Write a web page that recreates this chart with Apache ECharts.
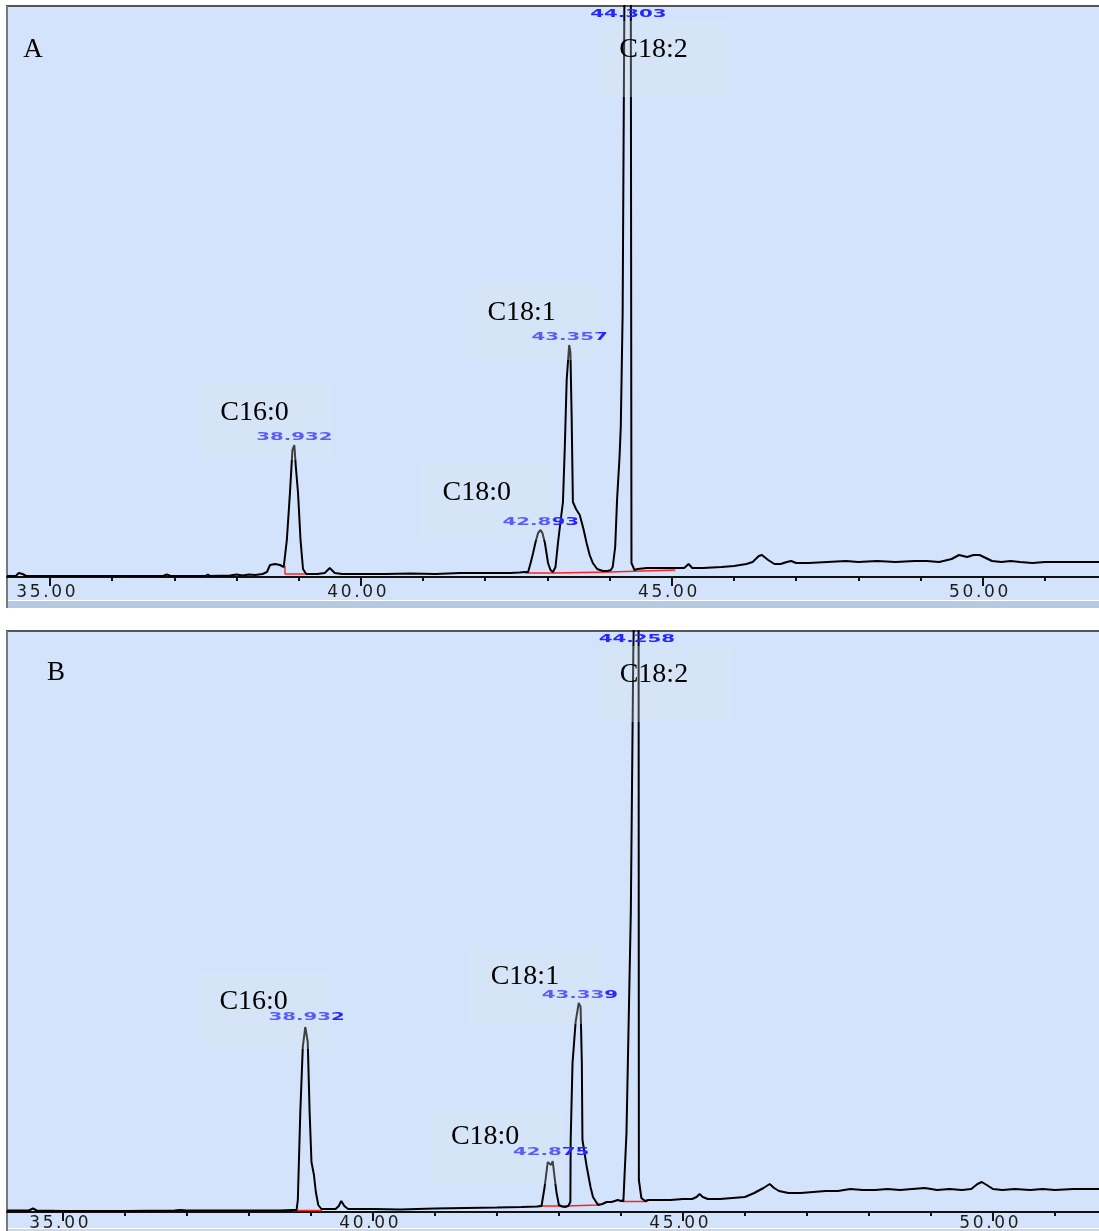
<!DOCTYPE html>
<html>
<head>
<meta charset="utf-8">
<script src="https://cdn.jsdelivr.net/npm/echarts@6/dist/echarts.min.js"></script>
<style>
  html, body { margin: 0; padding: 0; background: #fff; }
  #chart { width: 1099px; height: 1231px; }
</style>
</head>
<body>
<div id="chart"></div>
<script>
// retention time (min) / detector signal
const timeA = [
  34.31, 34.45, 34.50, 34.56, 34.62, 35.5, 36.3, 36.82, 36.88, 36.94,
  37.5, 37.54, 37.58, 37.9, 38.0, 38.1, 38.2, 38.3, 38.42, 38.49,
  38.54, 38.62, 38.70, 38.76, 38.79, 38.81, 38.86, 38.90, 38.93, 38.955,
  38.99, 39.03, 39.07, 39.12, 39.3, 39.42, 39.50, 39.58, 39.7, 40.0,
  40.4, 40.8, 41.2, 41.6, 42.0, 42.4, 42.55, 42.64, 42.69, 42.73,
  42.77, 42.81, 42.85, 42.89, 42.92, 42.96, 43.01, 43.05, 43.09, 43.13,
  43.17, 43.21, 43.25, 43.28, 43.31, 43.35, 43.37, 43.39, 43.41, 43.46,
  43.52, 43.58, 43.63, 43.68, 43.73, 43.80, 43.89, 43.97, 44.02, 44.05,
  44.09, 44.12, 44.16, 44.18, 44.21, 44.24, 44.30, 44.34, 44.352, 44.40,
  44.45, 44.6, 44.8, 45.0, 45.2, 45.27, 45.33, 45.5, 45.8, 46.0,
  46.2, 46.3, 46.4, 46.45, 46.55, 46.65, 46.75, 46.85, 46.92, 47.0,
  47.2, 47.5, 47.8, 48.0, 48.3, 48.6, 48.9, 49.1, 49.3, 49.5,
  49.62, 49.75, 49.85, 49.95, 50.05, 50.15, 50.3, 50.45, 50.6, 50.8,
  51.0, 51.2, 51.5, 51.87,
];
const signalA = [
  1, 1, 4, 3, 1, 1, 1, 1, 2.5, 1,
  1, 2.5, 1, 1.5, 2.5, 1.5, 2.5, 2, 3, 5,
  12, 13, 12, 10, 10, 37, 84, 127, 132, 110,
  84, 37, 8, 3, 3, 4, 9, 4, 3, 3,
  3, 3.5, 3, 4, 4, 4, 4.5, 5, 5, 14,
  24, 35, 44, 47, 44, 34, 14, 7, 5, 10,
  34, 55, 75, 130, 197, 232, 225, 160, 75, 68,
  62, 48, 34, 22, 14, 8, 6, 6, 7, 10,
  30, 77, 120, 150, 264, 600, 700, 650, 14, 7,
  8, 9, 9, 9, 9, 13, 9, 9, 10, 11,
  13, 15, 21, 22, 17, 13, 13, 15, 16, 14,
  14, 15, 16, 15, 16, 15, 16, 16, 15, 18,
  22, 20, 22, 22, 19, 16, 15, 16, 15, 14,
  15, 15, 15, 15,
];
const timeB = [
  34.10, 34.45, 34.52, 34.58, 35.0, 36.0, 36.8, 36.9, 37.0, 37.8,
  38.2, 38.5, 38.70, 38.77, 38.79, 38.83, 38.87, 38.91, 38.932, 38.95,
  38.98, 39.01, 39.05, 39.08, 39.12, 39.17, 39.40, 39.45, 39.49, 39.54,
  39.60, 39.7, 40.0, 40.44, 41.0, 41.5, 42.0, 42.4, 42.65, 42.72,
  42.77, 42.82, 42.85, 42.875, 42.90, 42.93, 42.96, 43.00, 43.05, 43.10,
  43.15, 43.185, 43.19, 43.22, 43.27, 43.32, 43.35, 43.37, 43.38, 43.45,
  43.51, 43.55, 43.63, 43.70, 43.77, 43.85, 43.95, 44.00, 44.04, 44.09,
  44.16, 44.20, 44.24, 44.285, 44.29, 44.33, 44.39, 44.45, 44.6, 44.8,
  45.0, 45.15, 45.22, 45.27, 45.32, 45.4, 45.6, 45.8, 46.0, 46.15,
  46.30, 46.40, 46.47, 46.55, 46.7, 46.9, 47.1, 47.3, 47.5, 47.7,
  47.9, 48.1, 48.3, 48.5, 48.7, 48.9, 49.1, 49.3, 49.5, 49.65,
  49.75, 49.82, 49.9, 50.0, 50.15, 50.35, 50.6, 50.8, 51.0, 51.3,
  51.71,
];
const signalB = [
  1.5, 1.5, 3.5, 1.5, 1, 1, 1.5, 2, 1.5, 1.5,
  1.5, 1.5, 2, 2, 12, 100, 165, 185, 187, 170,
  100, 50, 37, 20, 7, 3, 3, 6, 11, 6,
  3, 3, 3, 2.5, 3.5, 4, 4.5, 5, 5.5, 6,
  25, 50, 52, 47, 51, 35, 20, 7, 5.5, 5,
  6, 10, 72, 149, 190, 209, 205, 149, 72, 45,
  25, 15, 7, 8, 10, 10, 12, 11, 11, 79,
  300, 560, 700, 650, 32, 14, 11, 12, 12, 12,
  13, 13, 15, 18, 15, 13, 13, 14, 15, 19,
  24, 28, 24, 21, 19, 19, 20, 21, 21, 23,
  22, 22, 23, 22, 23, 24, 22, 23, 22, 23,
  28, 30, 27, 23, 22, 23, 22, 23, 22, 23,
  23,
];

// integration baselines (red), null = break
const baseTimeA = [38.78, 38.78, 39.10, null, 42.64, 43.09, 43.09, 44.00, 44.00, 45.06];
const baseSignalA = [11, 3, 3, null, 4, 4, 5, 5, 7, 7];
const baseTimeB = [38.71, 39.18, null, 42.66, 43.10, 43.10, 43.63, 43.63, null, 44.02, 44.02, 44.42, 44.42];
const baseSignalB = [1.5, 1.5, null, 6, 6, 7, 7, 9.5, null, 13, 10.5, 10.5, 13];

const peakNames = ['C16:0', 'C18:0', 'C18:1', 'C18:2'];
const peakTimeA = [38.932, 42.893, 43.357, 44.303];
const peakSignalA = [132, 47, 232, 700];
const peakTimeB = [38.932, 42.875, 43.339, 44.258];
const peakSignalB = [187, 52, 209, 700];

const majorTicks = [35, 40, 45, 50];
const minorTicks = [35, 36, 37, 38, 39, 40, 41, 42, 43, 44, 45, 46, 47, 48, 49, 50, 51];

const BG = '#D3E3FB';

const panels = [
  {
    letter: 'A', letterPos: [33, 50], top: 6, height: 571, xMin: 34.31, xMax: 51.87,
    time: timeA, signal: signalA, baseTime: baseTimeA, baseSignal: baseSignalA,
    peakTime: peakTimeA, peakSignal: peakSignalA,
    nameOffset: [[-40, -32], [-64, -37], [-48, -32], [25, 44]],
    bgBottom: 600, bandBottom: 608, bandColor: '#B6C9E2', labelMargin: 7,
  },
  {
    letter: 'B', letterPos: [56, 673], top: 631, height: 581, xMin: 34.10, xMax: 51.71,
    time: timeB, signal: signalB, baseTime: baseTimeB, baseSignal: baseSignalB,
    peakTime: peakTimeB, peakSignal: peakSignalB,
    nameOffset: [[-53, -23], [-66, -23], [-55, -26], [17, 44]],
    bgBottom: 1228, bandBottom: 1231, bandColor: '#C6D7EF', labelMargin: 3,
  },
];

const labelFont = { fontSize: 17, fontFamily: 'DejaVu Sans', color: '#1c1c1c', fontWeight: 'normal' };
const labelRich = {
  d: Object.assign({ width: 13.5, align: 'center' }, labelFont),
  p: Object.assign({ width: 8, align: 'center' }, labelFont),
};
const tickFormatter = (v) => v.toFixed(2).split('')
  .map((c) => (c === '.' ? '{p|.}' : '{d|' + c + '}')).join('');

const splitSegments = (xs, ys) => {
  const segs = [[]];
  xs.forEach((x, i) => {
    if (x === null) segs.push([]);
    else segs[segs.length - 1].push([x, ys[i]]);
  });
  return segs;
};

const grid = [];
const xAxis = [];
const yAxis = [];
const series = [];

panels.forEach((p, i) => {
  grid.push({
    left: 7, right: 0, top: p.top, height: p.height,
    containLabel: false, outerBoundsMode: 'none',
  });
  xAxis.push({
    type: 'value', gridIndex: i, min: p.xMin, max: p.xMax, position: 'bottom',
    axisLine: { show: true, onZero: false, lineStyle: { color: '#111', width: 2 } },
    axisTick: { show: true, customValues: majorTicks, length: 9, lineStyle: { color: '#111', width: 2 } },
    axisLabel: Object.assign({
      show: true, customValues: majorTicks, margin: p.labelMargin, padding: [0, 8, 0, 0],
      formatter: tickFormatter, rich: labelRich,
    }, labelFont),
    splitLine: { show: false },
  });
  xAxis.push({
    type: 'value', gridIndex: i, min: p.xMin, max: p.xMax, position: 'bottom',
    axisLine: { show: false, onZero: false },
    axisTick: { show: true, customValues: minorTicks, length: 4, lineStyle: { color: '#111', width: 2 } },
    axisLabel: { show: false },
    splitLine: { show: false },
  });
  yAxis.push({ type: 'value', gridIndex: i, min: 0, max: p.height, show: false });

  series.push({
    type: 'line',
    xAxisIndex: 2 * i,
    yAxisIndex: i,
    data: p.time.map((t, k) => [t, p.signal[k]]),
    symbol: 'none',
    clip: true,
    silent: true,
    lineStyle: { color: '#000', width: 2 },
    z: 3,
  });
  splitSegments(p.baseTime, p.baseSignal).forEach((seg) => {
    series.push({
      type: 'line',
      xAxisIndex: 2 * i,
      yAxisIndex: i,
      data: seg,
      symbol: 'none',
      silent: true,
      lineStyle: { color: '#FF2222', width: 1.5 },
      z: 2,
    });
  });
});

const chart = echarts.init(document.getElementById('chart'));
chart.setOption({ animation: false, grid, xAxis, yAxis, series });

const elements = [];
panels.forEach((p, i) => {
  elements.push({
    type: 'rect', z: -10,
    shape: { x: 7, y: p.top, width: 1092, height: p.bgBottom - p.top },
    style: { fill: BG },
  });
  elements.push({
    type: 'rect', z: -10,
    shape: { x: 7, y: p.bgBottom + 1, width: 1092, height: p.bandBottom - p.bgBottom - 1 },
    style: { fill: p.bandColor },
  });
  elements.push({
    type: 'line', z: -5,
    shape: { x1: 6, y1: p.top, x2: 1099, y2: p.top },
    style: { stroke: '#555', lineWidth: 2 },
  });
  elements.push({
    type: 'line', z: -5,
    shape: { x1: 7, y1: p.top, x2: 7, y2: p.bandBottom },
    style: { stroke: '#7a7a7a', lineWidth: 2 },
  });
  elements.push({
    type: 'text', z: 70,
    style: {
      text: p.letter, x: p.letterPos[0], y: p.letterPos[1],
      font: '27px "Liberation Serif"', fill: '#000', align: 'center', verticalAlign: 'middle',
    },
  });

  p.peakTime.forEach((t, k) => {
    const clipped = p.peakSignal[k] > p.height;
    const pt = chart.convertToPixel({ xAxisIndex: 2 * i, yAxisIndex: i }, [t, Math.min(p.peakSignal[k], p.height)]);
    const ax = pt[0];
    const ay = pt[1];
    elements.push({
      type: 'text', z: 50, x: ax, y: clipped ? ay + 8 : ay - 8, scaleX: 1.8,
      style: {
        text: t.toFixed(3), x: 0, y: 0, font: 'bold 11px "DejaVu Sans"',
        fill: '#2626ff', align: 'center', verticalAlign: 'middle',
      },
    });
    const cx = ax + p.nameOffset[k][0];
    const cy = ay + p.nameOffset[k][1];
    elements.push({
      type: 'rect', z: 60,
      shape: { x: cx - 56, y: cy - 29, width: 133, height: 76 },
      style: { fill: 'rgba(222,229,236,0.28)' },
    });
    elements.push({
      type: 'text', z: 70,
      style: {
        text: peakNames[k], x: cx, y: cy, font: '28px "Liberation Serif"',
        fill: '#000', align: 'center', verticalAlign: 'middle',
      },
    });
  });
});

chart.setOption({ graphic: elements });
</script>
</body>
</html>
